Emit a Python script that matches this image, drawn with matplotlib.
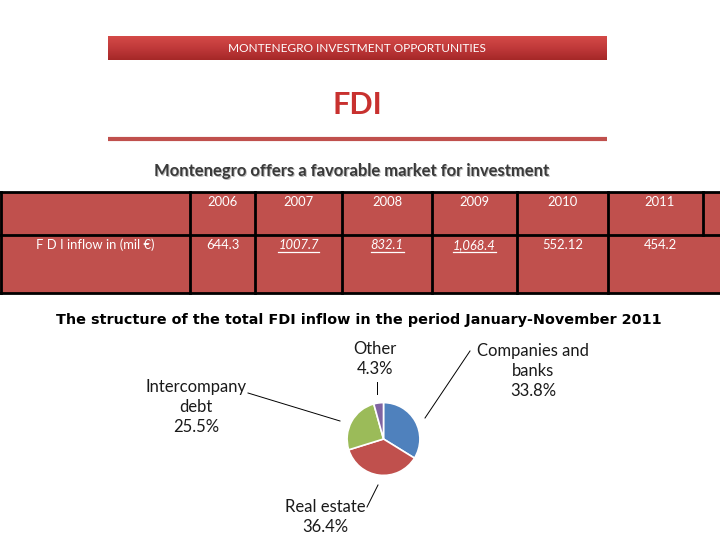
import matplotlib
matplotlib.use("Agg")
import matplotlib.pyplot as plt
import numpy as np
from matplotlib.colors import LinearSegmentedColormap

plt.rcParams['font.family'] = ['Lato', 'DejaVu Sans']

# ---- data ----
years = ["2006", "2007", "2008", "2009", "2010", "2011"]
fdi_values = ["644.3", "1007.7", "832.1", "1,068.4", "552.12", "454.2"]
underlined = [False, True, True, True, False, False]
row_label = "F D I inflow in (mil €)"

pie_labels = ["Companies and\nbanks", "Real estate", "Intercompany\ndebt", "Other"]
pie_shares = [33.8, 36.4, 25.5, 4.3]
pie_colors = ["#4F81BD", "#C0504D", "#9BBB59", "#8064A2"]

W, H = 720, 540
fig = plt.figure(figsize=(7.2, 5.4), dpi=100)
ax = fig.add_axes([0, 0, 1, 1])
ax.set_xlim(0, W)
ax.set_ylim(H, 0)
ax.axis("off")
fig.canvas.draw()
renderer = fig.canvas.get_renderer()
inv = ax.transData.inverted()

# ---- header bar with gradient ----
grad = np.linspace(0, 1, 50).reshape(-1, 1)
cm = LinearSegmentedColormap.from_list("r", ["#D44A47", "#C0393A", "#A52828"])
ax.imshow(grad, extent=(108, 607, 60, 36), cmap=cm, aspect="auto", zorder=1)
ax.text(357, 48, "MONTENEGRO INVESTMENT OPPORTUNITIES", color="white",
        fontsize=8.6, ha="center", va="center", zorder=2)

ax.text(357, 105, "FDI", color="#C8312F", fontsize=22, fontweight="bold",
        ha="center", va="center")
ax.plot([108, 607], [139, 139], color="#C0504D", lw=3, solid_capstyle="butt")

# subtitle with shadow
sub = "Montenegro offers a favorable market for investment"
ax.text(353, 172, sub, color="#bbbbbb", fontsize=12, fontweight="bold", ha="center", va="center")
ax.text(352, 171, sub, color="#3a3a3a", fontsize=12, fontweight="bold", ha="center", va="center")

# ---- table ----
col_edges = [0, 190, 255, 342, 432, 517, 608, 703, 720]
top, mid, bot = 192, 235, 293
cell_color = "#C0504D"
ax.add_patch(plt.Rectangle((0, top), 720, bot - top, facecolor=cell_color,
                           edgecolor="none", zorder=1))
lw = 2
for y in (top, mid, bot):
    ax.plot([0, 720], [y, y], color="black", lw=lw, zorder=3)
for x in col_edges[:-1]:
    if x == 0:
        ax.plot([1, 1], [top, bot], color="black", lw=lw, zorder=3)
    elif x == 703:
        ax.plot([x, x], [top, mid], color="black", lw=lw, zorder=3)
    else:
        ax.plot([x, x], [top, bot], color="black", lw=lw, zorder=3)

ax.text(95, 245, row_label, color="white", fontsize=9.4, ha="center", va="center", zorder=4)
centers = [(col_edges[i + 1] + col_edges[i + 2]) / 2 for i in range(6)]
centers[5] = 660
for c, yr, v, u in zip(centers, years, fdi_values, underlined):
    ax.text(c, 202, yr, color="white", fontsize=9.4, ha="center", va="center", zorder=4)
    t = ax.text(c, 245, v, color="white", fontsize=9.4, ha="center", va="center",
                style="italic" if u else "normal", zorder=4)
    if u:
        bb = t.get_window_extent(renderer=renderer)
        (x0, _), (x1, _) = inv.transform([(bb.x0, bb.y0), (bb.x1, bb.y0)])
        ax.plot([x0, x1], [252, 252], color="white", lw=0.9, zorder=4)

# ---- pie title (letter-spaced look: fit to the reference width) ----
title = "The structure of the total FDI inflow in the period January-November 2011"
tt = ax.text(359, 320, title, color="black", fontsize=10, fontweight="bold",
             ha="center", va="center", family="DejaVu Sans")
bb = tt.get_window_extent(renderer=renderer)
tt.set_fontsize(10 * 602 / bb.width)

# ---- pie ----
cx, cy, r = 383.5, 439, 45.5
pax = fig.add_axes([(cx - r) / W, (H - cy - r) / H, 2 * r / W, 2 * r / H])
pax.pie(pie_shares, colors=pie_colors, startangle=90, counterclock=False,
        wedgeprops=dict(edgecolor="white", linewidth=1.2))
pax.set_aspect("equal")
pax.axis("off")

label_pos = [(533, 371), (325, 517), (196, 407), (375, 359)]
for (lx, ly), lab, s in zip(label_pos, pie_labels, pie_shares):
    ax.text(lx, ly, f"{lab}\n{s}%", color="#1a1a1a", fontsize=12,
            ha="center", va="center", linespacing=1.3)

# leader lines
ax.plot([470, 425], [351, 418], color="black", lw=0.7)
ax.plot([248, 340], [393, 421], color="black", lw=0.7)
ax.plot([367, 378], [507, 485], color="black", lw=0.7)
ax.plot([377, 377], [382, 394], color="black", lw=0.7)

fig.savefig("out.png", dpi=100)
